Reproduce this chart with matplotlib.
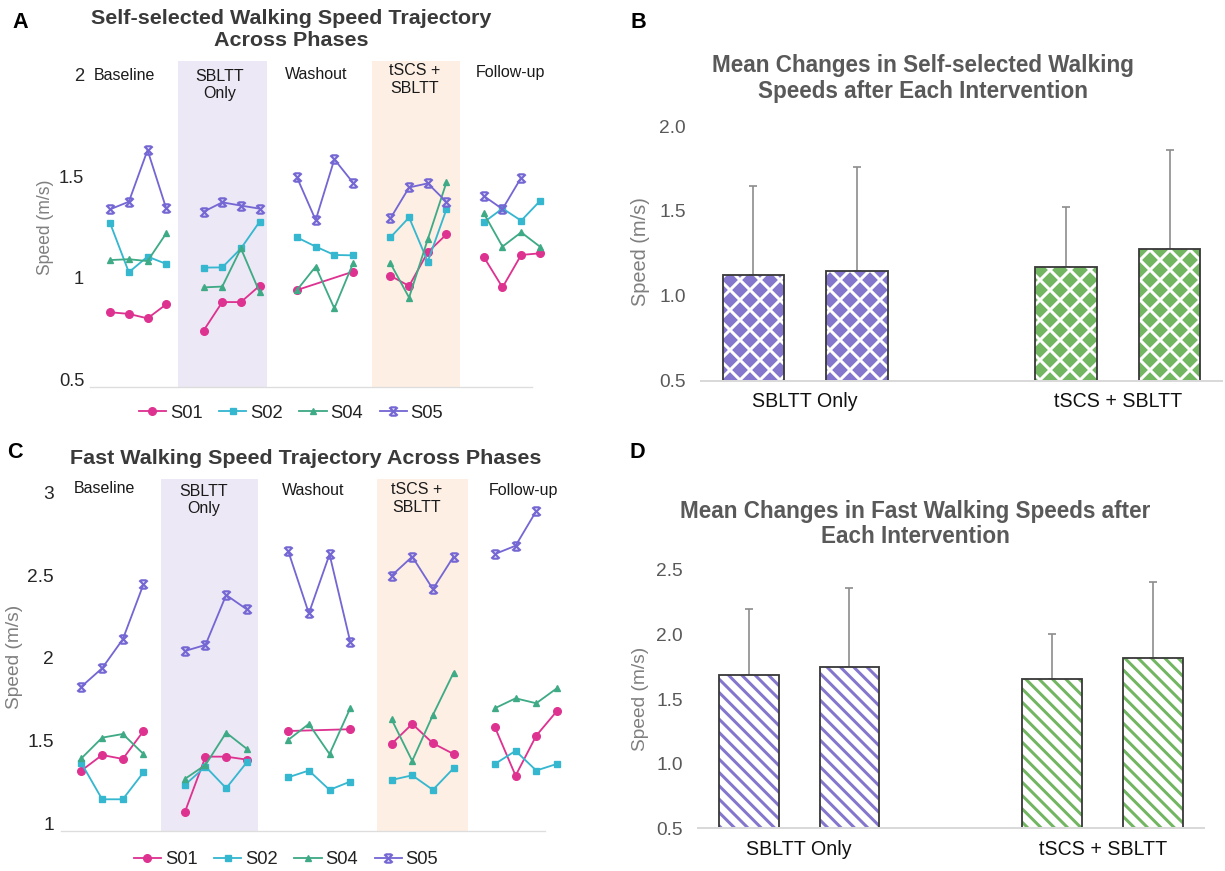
import numpy as np
import matplotlib
matplotlib.use("Agg")
import matplotlib.pyplot as plt
from matplotlib.path import Path

nan = np.nan

# Data
phases = ['Baseline', 'SBLTT\nOnly', 'Washout', 'tSCS +\nSBLTT', 'Follow-up']
subjects = ['S01', 'S02', 'S04', 'S05']

# self-selected speed (m/s), 4 sessions per phase
ss_s01 = [0.832, 0.824, 0.802, 0.871, 0.742, 0.882, 0.882, 0.962, 0.941, nan, nan, 1.031,
          1.011, 0.961, 1.126, 1.214, 1.103, 0.954, 1.113, 1.121]
ss_s02 = [1.268, 1.028, 1.105, 1.069, 1.051, 1.052, 1.145, 1.276, 1.199, 1.154, 1.113, 1.111,
          1.199, 1.297, 1.080, 1.337, 1.273, 1.341, 1.281, 1.377]
ss_s04 = [1.088, 1.092, 1.083, 1.219, 0.954, 0.958, 1.145, 0.930, 0.941, 1.056, 0.851, 1.072,
          1.072, 0.904, 1.190, 1.469, 1.317, 1.154, 1.224, 1.154]
ss_s05 = [1.337, 1.374, 1.627, 1.341, 1.325, 1.371, 1.355, 1.340, 1.493, 1.284, 1.582, 1.467,
          1.292, 1.444, 1.464, 1.373, 1.402, 1.338, 1.492, nan]

# fast speed (m/s)
fs_s01 = [1.319, 1.413, 1.389, 1.558, 1.067, 1.403, 1.403, 1.385, 1.558, nan, nan, 1.569,
          1.480, 1.601, 1.484, 1.419, 1.581, 1.288, 1.530, 1.679]
fs_s02 = [1.363, 1.145, 1.145, 1.308, 1.232, 1.343, 1.212, 1.369, 1.278, 1.319, 1.202, 1.252,
          1.262, 1.290, 1.202, 1.333, 1.359, 1.438, 1.319, 1.359]
fs_s04 = [1.393, 1.518, 1.540, 1.419, 1.268, 1.353, 1.548, 1.450, 1.504, 1.601, 1.419, 1.696,
          1.629, 1.377, 1.655, 1.911, 1.696, 1.756, 1.726, 1.817]
fs_s05 = [1.827, 1.938, 2.113, 2.446, 2.042, 2.079, 2.381, 2.294, 2.647, 2.270, 2.627, 2.099,
          2.498, 2.613, 2.417, 2.613, 2.629, 2.679, 2.889, nan]

# mean speeds after each intervention (two bars per intervention)
groups = ['SBLTT Only', 'tSCS + SBLTT']
ss_mean_1 = [1.125, 1.171]
ss_mean_2 = [1.145, 1.275]
ss_err_1 = [0.522, 0.353]
ss_err_2 = [0.614, 0.586]
fs_mean_1 = [1.686, 1.657]
fs_mean_2 = [1.750, 1.820]
fs_err_1 = [0.515, 0.351]
fs_err_2 = [0.613, 0.585]

# Style
plt.rcParams['font.family'] = ['Liberation Sans', 'DejaVu Sans']
W, H, DPI = 1225, 871, 120
colors = ['#DE3290', '#35B7D0', '#3FAA86', '#7467D4']
purple_bar = '#8476CC'
green_bar = '#72B662'

xmark = Path([(-1, 1), (1, -1), (-1, -1), (1, 1), (-0.7, 1), (0.7, 1), (-0.7, -1), (0.7, -1)],
             [Path.MOVETO, Path.LINETO] * 4)
markers = ['o', 's', '^', xmark]
msizes = [4.6, 4.0, 4.0, 5.0]

fig = plt.figure(figsize=(W / DPI, H / DPI), dpi=DPI)


def px_axes(l, t, r, b):
    return fig.add_axes([l / W, 1 - b / H, (r - l) / W, (b - t) / H])


def px_text(x, y, s, **kw):
    fig.text(x / W, 1 - y / H, s, **kw)


def trajectory(ax, series, xlim, ylim, spine_end, bands, ticks, ticklabels, label_pos, tick_fs, pad):
    ax.set_xlim(*xlim)
    ax.set_ylim(*ylim)
    for b0, b1, c in bands:
        ax.axvspan(b0, b1, color=c, lw=0, zorder=0)
    handles = []
    for i, vals in enumerate(series):
        vals = np.array(vals)
        for p in range(5):
            seg = vals[p * 4:(p + 1) * 4]
            xs = np.arange(4) + p * 5
            ok = ~np.isnan(seg)
            ln, = ax.plot(xs[ok], seg[ok], color=colors[i], lw=1.1, marker=markers[i],
                          ms=msizes[i], mew=1.3 if i == 3 else 0.8, zorder=3, clip_on=False)
            if p == 0:
                handles.append(ln)
    for (lx, ly), name in zip(label_pos, phases):
        ax.text(lx, ly, name, ha='center', va='center', fontsize=9.6, color='#1a1a1a',
                linespacing=1.2)
    ax.set_yticks(ticks)
    ax.set_yticklabels(ticklabels)
    ax.set_xticks([])
    ax.tick_params(axis='y', length=0, labelsize=tick_fs, labelcolor='#262626', pad=pad)
    for s in ['top', 'right', 'left']:
        ax.spines[s].set_visible(False)
    ax.spines['bottom'].set_color('#dddddd')
    ax.spines['bottom'].set_bounds(xlim[0], spine_end)
    ax.patch.set_alpha(0)
    return handles


band_sb = '#EDE8F5'
band_ts = '#FDEFE4'

# Panel A
axA = px_axes(90, 61, 549.2, 386.7)
hA = trajectory(axA, [ss_s01, ss_s02, ss_s04, ss_s05], (-1.08, 23.5), (0.467, 2.064), 22.6,
                [(3.65, 8.38, band_sb), (14.0, 18.7, band_ts)],
                [0.5, 1, 1.5, 2], ['0.5', '1', '1.5', '2'],
                [(0.76, 1.995), (5.84, 1.946), (11.05, 2.0), (16.3, 1.973), (21.4, 2.01)], 11, 3.5)

# Panel C
axC = px_axes(61.2, 479.3, 565.2, 830.7)
hC = trajectory(axC, [fs_s01, fs_s02, fs_s04, fs_s05], (-0.98, 23.4), (0.955, 3.081), 22.44,
                [(3.87, 8.52, band_sb), (14.3, 18.7, band_ts)],
                [1, 1.5, 2, 2.5, 3], ['1', '1.5', '2', '2.5', '3'],
                [(1.1, 3.026), (5.9, 2.957), (11.2, 3.012), (16.2, 2.964), (21.4, 3.012)], 11.5, 4.5)

for hs, cx, cy in [(hA, 291, 413), (hC, 286, 860)]:
    fig.legend(hs, subjects, loc='center', bbox_to_anchor=(cx / W, 1 - cy / H), ncol=4,
               frameon=False, fontsize=11, handlelength=1.5, handletextpad=0.2,
               columnspacing=0.9, labelcolor='#222222')


def bar_panel(ax, m1, e1, m2, e2, hatch, hatch_lw, face_white, ylim, ticks):
    x = np.arange(len(groups))
    w, off = 0.197, 0.166
    cols = [purple_bar, green_bar]
    for xs, means, errs in [(x - off, m1, e1), (x + off, m2, e2)]:
        for xi, mi, ci in zip(xs, means, cols):
            with plt.rc_context({'hatch.linewidth': hatch_lw}):
                if face_white:
                    ax.bar(xi, mi, w, color='white', edgecolor=ci, hatch=hatch, lw=0, zorder=2)
                else:
                    ax.bar(xi, mi, w, color=ci, edgecolor='white', hatch=hatch, lw=0, zorder=2)
            ax.bar(xi, mi, w, fill=False, edgecolor='#3a3a3a', lw=1.1, zorder=3)
        ax.errorbar(xs, means, yerr=[np.zeros(len(errs)), errs], fmt='none', ecolor='#8c8c8c',
                    elinewidth=1.0, capsize=2.2, capthick=1.0, zorder=1)
    ax.set_xlim(-0.334, 1.333)
    ax.set_ylim(*ylim)
    ax.set_yticks(ticks)
    ax.set_yticklabels(['%.1f' % t for t in ticks])
    ax.set_xticks(x)
    ax.set_xticklabels(groups)
    ax.tick_params(axis='y', length=0, labelsize=11.5, labelcolor='#595959', pad=9)
    ax.tick_params(axis='x', length=0, labelsize=11.8, labelcolor='#111111', pad=7)
    for s in ['top', 'right', 'left']:
        ax.spines[s].set_visible(False)
    ax.spines['bottom'].set_color('#d9d9d9')
    ax.spines['bottom'].set_linewidth(1.2)
    ax.spines['bottom'].set_zorder(4)


axB = px_axes(700.8, 126, 1221.8, 380.7)
bar_panel(axB, ss_mean_1, ss_err_1, ss_mean_2, ss_err_2, 'xx', 1.8, False, (0.5, 2.0),
          [0.5, 1.0, 1.5, 2.0])
axD = px_axes(697.6, 570, 1203.8, 828.3)
bar_panel(axD, fs_mean_1, fs_err_1, fs_mean_2, fs_err_2, '\\\\\\', 1.8, True, (0.5, 2.5),
          [0.5, 1.0, 1.5, 2.0, 2.5])

# titles
px_text(291, 29.5, 'Self-selected Walking Speed Trajectory\nAcross Phases', ha='center', va='center',
        fontsize=12.9, fontweight='bold', color='#3a3a3a', linespacing=1.15)
px_text(306, 458, 'Fast Walking Speed Trajectory Across Phases', ha='center', va='center',
        fontsize=12.9, fontweight='bold', color='#3a3a3a')
px_text(923, 78.5, 'Mean Changes in Self-selected Walking\nSpeeds after Each Intervention',
        ha='center', va='center', fontsize=13.5, fontweight='bold', color='#595959', linespacing=1.15)
px_text(915, 524, 'Mean Changes in Fast Walking Speeds after\nEach Intervention',
        ha='center', va='center', fontsize=13.5, fontweight='bold', color='#595959', linespacing=1.1)

# y labels
for x, y, fs in [(45, 227, 10.5), (15, 657, 11.5), (640, 252, 12), (640, 699, 11.5)]:
    px_text(x, y, 'Speed (m/s)', rotation=90, ha='center', va='center', fontsize=fs, color='#7f7f7f')

# panel letters
for x, y, s in [(20, 22, 'A'), (638, 22, 'B'), (15, 452, 'C'), (637, 452, 'D')]:
    px_text(x, y, s, ha='center', va='center', fontsize=13, fontweight='bold', color='black')

fig.savefig('out.png', dpi=DPI, facecolor='white')
